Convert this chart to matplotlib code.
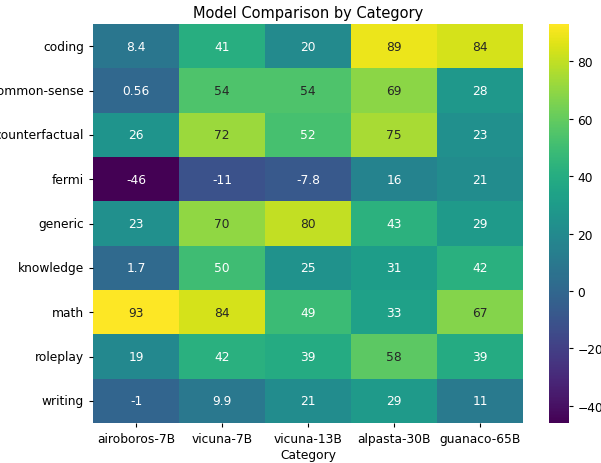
import matplotlib
matplotlib.use('Agg')
import matplotlib.pyplot as plt
import numpy as np
import pandas as pd
import seaborn as sns

CATEGORIES = ['coding', 'common-sense', 'counterfactual', 'fermi', 'generic',
              'knowledge', 'math', 'roleplay', 'writing']
MODELS = ['airoboros-7B', 'vicuna-7B', 'vicuna-13B', 'alpasta-30B', 'guanaco-65B']

airoboros_7b = [8.4, 0.56, 26, -46, 23, 1.7, 93, 19, -1]
vicuna_7b = [41, 54, 72, -11, 70, 50, 84, 42, 9.9]
vicuna_13b = [20, 54, 52, -7.8, 80, 25, 49, 39, 21]
alpasta_30b = [89, 69, 75, 16, 43, 31, 33, 58, 29]
guanaco_65b = [84, 28, 23, 21, 29, 42, 67, 39, 11]

df = pd.DataFrame({
    'airoboros-7B': airoboros_7b,
    'vicuna-7B': vicuna_7b,
    'vicuna-13B': vicuna_13b,
    'alpasta-30B': alpasta_30b,
    'guanaco-65B': guanaco_65b,
}, index=CATEGORIES)[MODELS]

# the reference looks like a slightly downscaled render
plt.rcParams['font.size'] = 8.8

fig = plt.figure(figsize=(6.01, 4.64), dpi=100)
ax = fig.add_axes([0.155, 0.086, 0.7155, 0.860])
cax = fig.add_axes([0.913, 0.086, 0.033, 0.860])

sns.heatmap(df, annot=True, cmap='viridis', ax=ax, cbar_ax=cax,
            annot_kws={'fontsize': 8.8})
ax.set_title('Model Comparison by Category', fontsize=10.5, pad=5)
ax.set_xlabel('Category', labelpad=2)
ax.set_ylabel('')
ax.tick_params(axis='y', rotation=0, length=3)
ax.tick_params(axis='x', rotation=0, length=3)
cax.tick_params(length=3)

fig.savefig('out.png', dpi=100)
